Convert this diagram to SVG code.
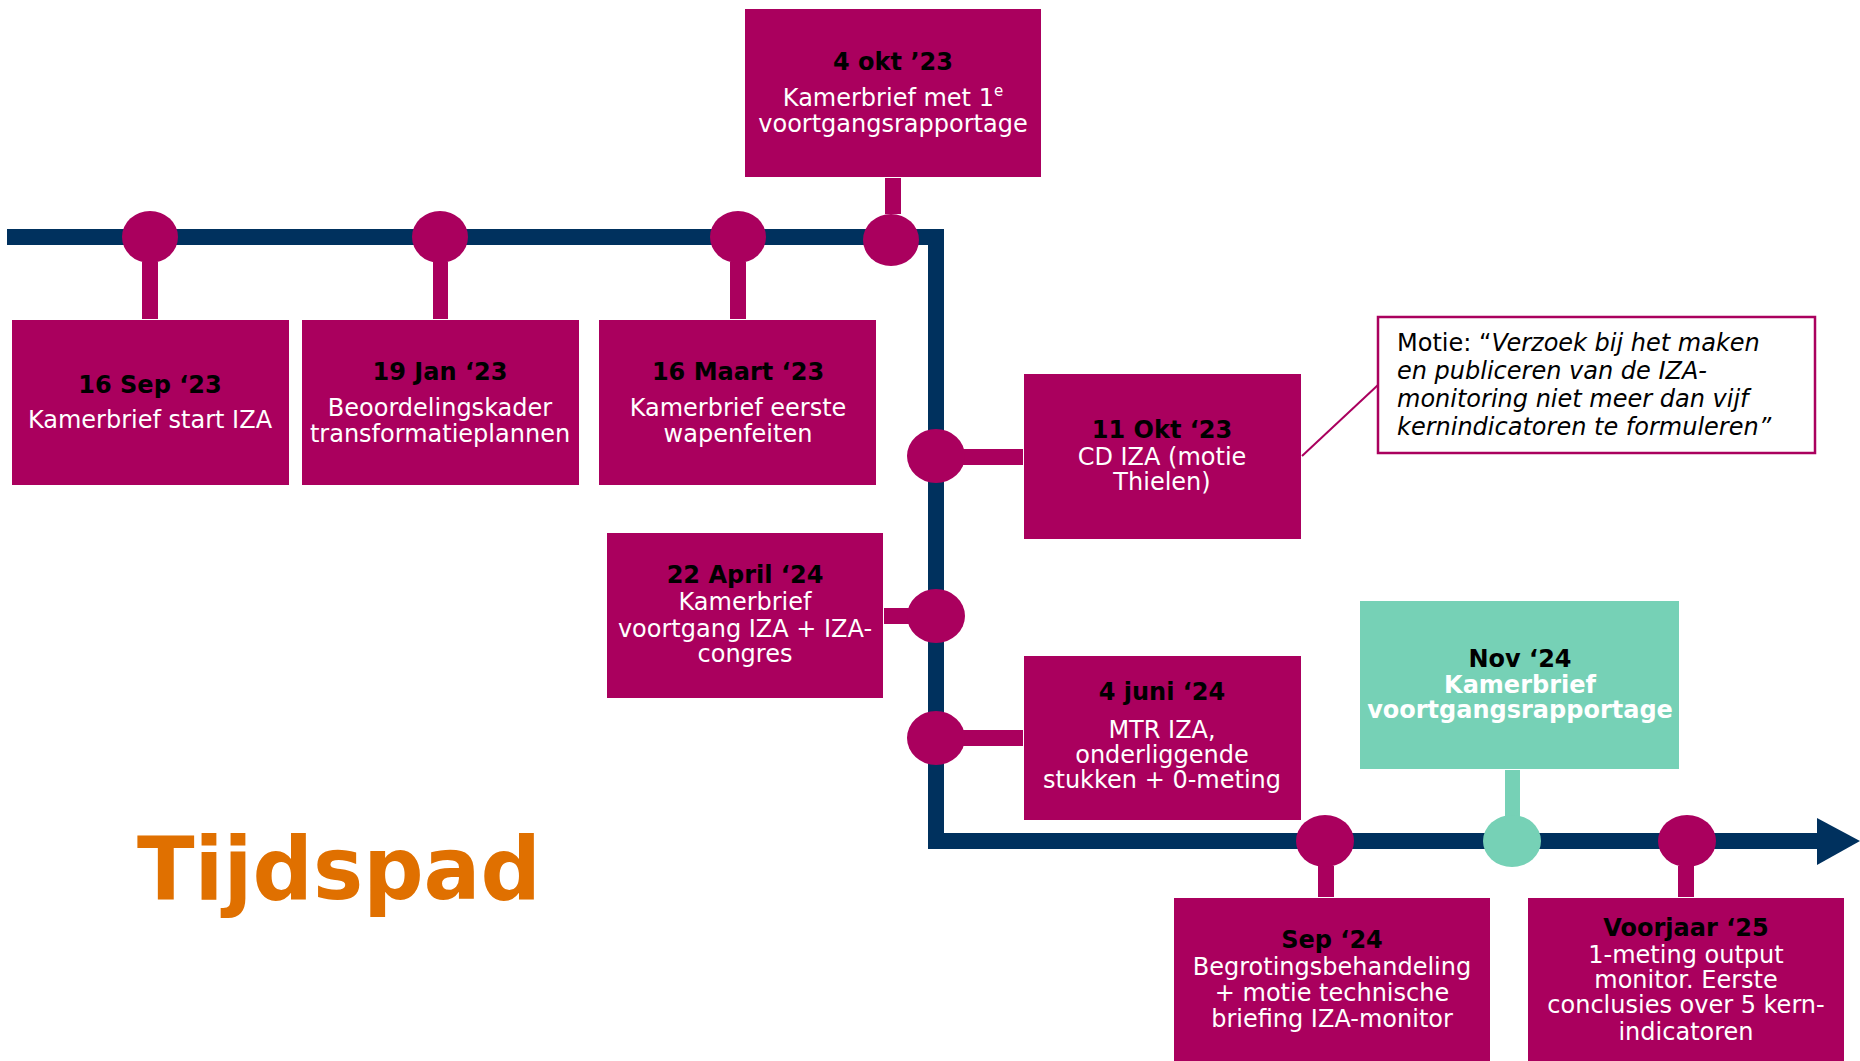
<svg xmlns="http://www.w3.org/2000/svg" width="1860" height="1061" viewBox="0 0 1860 1061">
<style>
.box{fill:#AA005E}
.teal{fill:#76D1B6}
.dot{fill:#AA005E}
.t{font-family:"DejaVu Sans","Verdana",sans-serif;font-size:24px;text-anchor:middle;fill:#fff}
.d{font-weight:bold;fill:#000}
.b{font-weight:bold}
.c{font-family:"DejaVu Sans","Verdana",sans-serif;font-size:24px;fill:#000}
</style>
<rect width="1860" height="1061" fill="#fff"/>
<g id="connectors">
<polyline points="7,237 936,237 936,841 1820,841" fill="none" stroke="#00315E" stroke-width="16" stroke-linejoin="miter"/>
<polygon points="1817,818 1860,841 1817,865" fill="#00315E"/>
<rect x="142" y="262" width="16" height="57" fill="#AA005E"/>
<rect x="433" y="262" width="15" height="57" fill="#AA005E"/>
<rect x="730" y="262" width="16" height="57" fill="#AA005E"/>
<rect x="885" y="178" width="16" height="36" fill="#AA005E"/>
<rect x="963" y="449" width="60" height="16" fill="#AA005E"/>
<rect x="884" y="608" width="25" height="16" fill="#AA005E"/>
<rect x="963" y="730" width="60" height="16" fill="#AA005E"/>
<rect x="1318" y="866" width="16" height="31" fill="#AA005E"/>
<rect x="1505" y="770" width="15" height="47" fill="#76D1B6"/>
<rect x="1678" y="866" width="16" height="31" fill="#AA005E"/>
<line x1="1302" y1="456" x2="1378" y2="385" stroke="#AA005E" stroke-width="2"/>
<ellipse class="dot" cx="150" cy="237" rx="28" ry="26"/>
<ellipse class="dot" cx="440" cy="237" rx="28" ry="26"/>
<ellipse class="dot" cx="738" cy="237" rx="28" ry="26"/>
<ellipse class="dot" cx="891" cy="240" rx="28" ry="26"/>
<ellipse class="dot" cx="936" cy="456" rx="29" ry="27"/>
<ellipse class="dot" cx="936" cy="616" rx="29" ry="27"/>
<ellipse class="dot" cx="936" cy="738" rx="29" ry="27"/>
<ellipse class="dot" cx="1325" cy="841" rx="29" ry="26"/>
<ellipse class="teal" cx="1512" cy="841" rx="29" ry="26"/>
<ellipse class="dot" cx="1687" cy="841" rx="29" ry="26"/>
</g>
<g id="n-4okt">
<rect class="box" x="745" y="9" width="296" height="168"/>
<text class="t d" x="893" y="70">4 okt ’23</text>
<text class="t" x="893" y="106">Kamerbrief met 1<tspan font-size="15" dy="-10">e</tspan></text>
<text class="t" x="893" y="132">voortgangsrapportage</text>
</g>
<g id="n-16sep">
<rect class="box" x="12" y="320" width="277" height="165"/>
<text class="t d" x="150" y="393">16 Sep ‘23</text>
<text class="t" x="150" y="428">Kamerbrief start IZA</text>
</g>
<g id="n-19jan">
<rect class="box" x="302" y="320" width="277" height="165"/>
<text class="t d" x="440" y="380">19 Jan ‘23</text>
<text class="t" x="440" y="416">Beoordelingskader</text>
<text class="t" x="440" y="442">transformatieplannen</text>
</g>
<g id="n-16maart">
<rect class="box" x="599" y="320" width="277" height="165"/>
<text class="t d" x="738" y="380">16 Maart ‘23</text>
<text class="t" x="738" y="416">Kamerbrief eerste</text>
<text class="t" x="738" y="442">wapenfeiten</text>
</g>
<g id="n-11okt">
<rect class="box" x="1024" y="374" width="277" height="165"/>
<text class="t d" x="1162" y="438">11 Okt ‘23</text>
<text class="t" x="1162" y="465">CD IZA (motie</text>
<text class="t" x="1162" y="490">Thielen)</text>
</g>
<g id="n-motie">
<rect x="1378" y="317" width="437" height="136" fill="#fff" stroke="#AA005E" stroke-width="2.5"/>
<text class="c" x="1397" y="351">Motie: “<tspan font-style="italic">Verzoek bij het maken</tspan></text>
<text class="c" font-style="italic" x="1397" y="379">en publiceren van de IZA-</text>
<text class="c" font-style="italic" x="1397" y="407">monitoring niet meer dan vijf</text>
<text class="c" font-style="italic" x="1397" y="435">kernindicatoren te formuleren”</text>
</g>
<g id="n-22april">
<rect class="box" x="607" y="533" width="276" height="165"/>
<text class="t d" x="745" y="583">22 April ‘24</text>
<text class="t" x="745" y="610">Kamerbrief</text>
<text class="t" x="745" y="637">voortgang IZA + IZA-</text>
<text class="t" x="745" y="662">congres</text>
</g>
<g id="n-4juni">
<rect class="box" x="1024" y="656" width="277" height="164"/>
<text class="t d" x="1162" y="700">4 juni ‘24</text>
<text class="t" x="1162" y="738">MTR IZA,</text>
<text class="t" x="1162" y="763">onderliggende</text>
<text class="t" x="1162" y="788">stukken + 0-meting</text>
</g>
<g id="n-nov">
<rect class="teal" x="1360" y="601" width="319" height="168"/>
<text class="t d" x="1520" y="667">Nov ‘24</text>
<text class="t b" x="1520" y="693">Kamerbrief</text>
<text class="t b" x="1520" y="718">voortgangsrapportage</text>
</g>
<g id="n-sep">
<rect class="box" x="1174" y="898" width="316" height="163"/>
<text class="t d" x="1332" y="948">Sep ‘24</text>
<text class="t" x="1332" y="975">Begrotingsbehandeling</text>
<text class="t" x="1332" y="1001">+ motie technische</text>
<text class="t" x="1332" y="1027">briefing IZA-monitor</text>
</g>
<g id="n-voorjaar">
<rect class="box" x="1528" y="898" width="316" height="163"/>
<text class="t d" x="1686" y="936">Voorjaar ‘25</text>
<text class="t" x="1686" y="963">1-meting output</text>
<text class="t" x="1686" y="988">monitor. Eerste</text>
<text class="t" x="1686" y="1013">conclusies over 5 kern-</text>
<text class="t" x="1686" y="1040">indicatoren</text>
</g>
<g id="title">
<text x="137" y="899" font-family="DejaVu Sans, Verdana, sans-serif" font-weight="bold" font-size="88" fill="#E07000" textLength="404" lengthAdjust="spacingAndGlyphs">Tijdspad</text>
</g>
</svg>
